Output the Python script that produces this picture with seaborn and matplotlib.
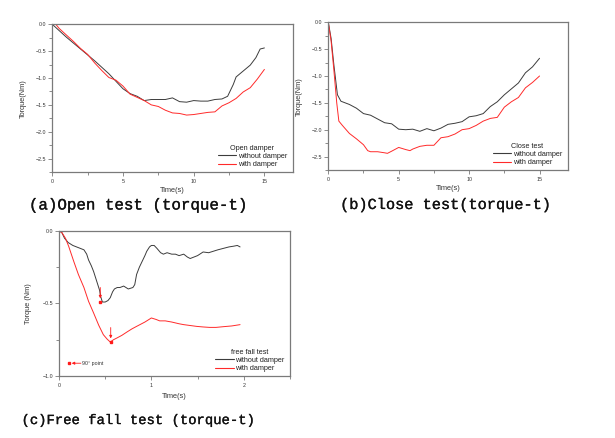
import numpy as np
import pandas as pd
import matplotlib
matplotlib.use("Agg")
import matplotlib.pyplot as plt
import matplotlib.patheffects as pe
from matplotlib.lines import Line2D
import seaborn as sns
from matplotlib.ticker import MultipleLocator

# ---------------- data ----------------
# (a) Open test
open_wo_t = [0, 0.5, 1, 1.5, 2, 2.5, 3, 3.5, 4, 4.5, 5, 5.5, 6, 6.5, 7, 7.5, 8, 8.5,
             9, 9.5, 10, 10.5, 11, 11.5, 12, 12.4, 12.8, 13.0, 13.5, 14, 14.4, 14.7, 15]
open_wo_v = [0, -0.12, -0.24, -0.35, -0.46, -0.57, -0.68, -0.80, -0.92, -1.06, -1.20, -1.29,
             -1.34, -1.42, -1.40, -1.40, -1.40, -1.37, -1.44, -1.45, -1.42, -1.43, -1.43,
             -1.40, -1.39, -1.34, -1.12, -0.98, -0.87, -0.76, -0.62, -0.46, -0.44]
open_w_t = [0.25, 0.5, 1, 1.5, 2, 2.5, 3, 3.5, 4, 4.5, 5, 5.5, 6, 6.5, 7, 7.5, 8, 8.5,
            9, 9.5, 10, 10.5, 11, 11.5, 12, 12.5, 13, 13.5, 14, 14.5, 15]
open_w_v = [0, -0.08, -0.20, -0.32, -0.45, -0.56, -0.72, -0.86, -0.99, -1.04, -1.15, -1.30,
            -1.36, -1.42, -1.50, -1.53, -1.60, -1.65, -1.66, -1.69, -1.68, -1.66, -1.64,
            -1.63, -1.52, -1.46, -1.38, -1.26, -1.18, -1.02, -0.84]

# (b) Close test
close_wo_t = [0, 0.2, 0.4, 0.65, 0.9, 1.5, 2, 2.5, 3, 3.5, 4, 4.5, 5, 5.5, 6, 6.5, 7, 7.5,
              8, 8.5, 9, 9.5, 10, 10.5, 11, 11.5, 12, 12.5, 13, 13.5, 14, 14.5, 15]
close_wo_v = [0, -0.30, -0.80, -1.35, -1.47, -1.53, -1.60, -1.70, -1.73, -1.80, -1.87, -1.89,
              -1.99, -2.00, -1.99, -2.03, -1.98, -2.02, -1.97, -1.90, -1.88, -1.85, -1.76,
              -1.74, -1.70, -1.57, -1.48, -1.35, -1.24, -1.13, -0.94, -0.83, -0.67]
close_w_t = [0, 0.2, 0.4, 0.6, 0.75, 1, 1.5, 2, 2.5, 2.8, 3, 3.5, 4, 4.2, 4.5, 5, 5.5, 5.8,
             6, 6.5, 7, 7.5, 8, 8.5, 9, 9.5, 10, 10.5, 11, 11.5, 12, 12.5, 13, 13.5, 14,
             14.5, 15]
close_w_v = [0, -0.35, -0.90, -1.50, -1.84, -1.92, -2.07, -2.17, -2.28, -2.39, -2.41, -2.41,
             -2.43, -2.44, -2.40, -2.33, -2.37, -2.39, -2.36, -2.31, -2.29, -2.29, -2.15,
             -2.13, -2.08, -2.00, -1.98, -1.92, -1.84, -1.79, -1.77, -1.58, -1.48, -1.40,
             -1.22, -1.12, -1.00]

# (c) Free fall test
fall_wo_t = [0, 0.03, 0.06, 0.1, 0.15, 0.19, 0.23, 0.27, 0.3, 0.32, 0.35, 0.375, 0.4, 0.42,
             0.44, 0.45, 0.47, 0.5, 0.53, 0.555, 0.58, 0.6, 0.63, 0.66, 0.7, 0.75, 0.8, 0.82,
             0.84, 0.87, 0.9, 0.93, 0.95, 0.98, 1.0, 1.03, 1.06, 1.1, 1.13, 1.17, 1.22, 1.26,
             1.3, 1.35, 1.39, 1.42, 1.46, 1.5, 1.56, 1.62, 1.67, 1.72, 1.78, 1.84, 1.89,
             1.93, 1.96]
fall_wo_v = [0, -0.01, -0.05, -0.08, -0.10, -0.11, -0.12, -0.13, -0.16, -0.20, -0.24, -0.28,
             -0.33, -0.37, -0.41, -0.45, -0.49, -0.49, -0.48, -0.46, -0.42, -0.40, -0.39,
             -0.39, -0.38, -0.40, -0.39, -0.37, -0.30, -0.25, -0.21, -0.17, -0.14, -0.11,
             -0.10, -0.10, -0.12, -0.15, -0.16, -0.15, -0.16, -0.16, -0.17, -0.16, -0.18,
             -0.19, -0.18, -0.17, -0.145, -0.15, -0.14, -0.13, -0.12, -0.11, -0.105, -0.10,
             -0.11]
fall_w_t = [0, 0.03, 0.07, 0.105, 0.16, 0.21, 0.27, 0.32, 0.375, 0.43, 0.48, 0.52, 0.555,
            0.59, 0.627, 0.68, 0.735, 0.79, 0.84, 0.93, 1.0, 1.05, 1.09, 1.15, 1.22, 1.3,
            1.35, 1.42, 1.49, 1.56, 1.63, 1.7, 1.78, 1.87, 1.96]
fall_w_v = [0, -0.01, -0.05, -0.106, -0.21, -0.30, -0.39, -0.485, -0.566, -0.65, -0.715,
            -0.745, -0.766, -0.75, -0.738, -0.72, -0.697, -0.675, -0.658, -0.628, -0.60,
            -0.61, -0.62, -0.62, -0.628, -0.64, -0.646, -0.652, -0.658, -0.662, -0.665,
            -0.665, -0.66, -0.655, -0.646]

# 90 degree points (free fall test)
point90_t = [0.447, 0.56]
point90_v = [-0.49, -0.766]

series_names = ["without damper", "with damper"]
legend_titles = ["Open damper", "Close test", "free fall test"]
captions = ["(a)Open test (torque-t)", "(b)Close test(torque-t)", "(c)Free fall test (torque-t)"]
ab_xticks = [0, 5, 10, 15]
ab_xticklabels = ["0", "5", "10", "15"]
ab_yticks = [0, -0.5, -1.0, -1.5, -2.0, -2.5]
ab_yticklabels = ["0.0", "\u22120.5", "\u22121.0", "\u22121.5", "\u22122.0", "\u22122.5"]
c_xticks = [0, 1, 2]
c_xticklabels = ["0", "1", "2"]
c_yticks = [0, -0.5, -1.0]
c_yticklabels = ["0.0", "\u22120.5", "\u22121.0"]

# ---------------- style ----------------
sns.set_style("ticks")
plt.rcParams['font.family'] = ['Liberation Sans', 'DejaVu Sans']

palette = {"without damper": "#3c3c3c", "with damper": "#ff2a2a"}
spine_col = "#7a7a7a"
text_col = "#333333"


def make_df(t1, v1, t2, v2):
    a = pd.DataFrame({"Time": t1, "Torque": v1, "series": series_names[0]})
    b = pd.DataFrame({"Time": t2, "Torque": v2, "series": series_names[1]})
    return pd.concat([a, b], ignore_index=True)


fig = plt.figure(figsize=(6.15, 4.38), dpi=100)
axA = fig.add_axes([0.0850, 0.6073, 0.3909, 0.3372])
axB = fig.add_axes([0.5338, 0.6119, 0.3893, 0.3372])
axC = fig.add_axes([0.0959, 0.1416, 0.3756, 0.3311])

dfs = [make_df(open_wo_t, open_wo_v, open_w_t, open_w_v),
       make_df(close_wo_t, close_wo_v, close_w_t, close_w_v),
       make_df(fall_wo_t, fall_wo_v, fall_w_t, fall_w_v)]
axes = [axA, axB, axC]
leg_y = [0.012, 0.012, 0.012]

for i, (ax, df) in enumerate(zip(axes, dfs)):
    sns.lineplot(data=df, x="Time", y="Torque", hue="series", hue_order=series_names,
                 palette=palette, estimator=None, sort=False, linewidth=0.7, ax=ax,
                 legend=False)
    for s in ax.spines.values():
        s.set_color(spine_col)
        s.set_linewidth(0.9)
    ax.tick_params(which="both", direction="out", colors=spine_col, labelcolor=text_col,
                   labelsize=3.8, width=0.6)
    ax.tick_params(which="major", length=3, pad=1.2)
    ax.tick_params(which="minor", length=2)
    ax.tick_params(axis="x", pad=2.0)
    handles = [Line2D([0], [0], color=palette[n], lw=0.8) for n in series_names]
    leg = ax.legend(handles, series_names, title=legend_titles[i], loc="lower right",
                    frameon=False, fontsize=5.2, title_fontsize=5.2, handlelength=2.5,
                    handletextpad=0.2, labelspacing=0.15, borderaxespad=0,
                    borderpad=0.3, bbox_to_anchor=(0.985, leg_y[i]))
    for t in leg.get_texts():
        t.set_color("#222222")
    leg.get_title().set_color("#222222")

# panel (a), (b)
for ax in (axA, axB):
    ax.set_xlim(0, 17)
    ax.set_ylim(-2.75, 0)
    ax.xaxis.set_minor_locator(MultipleLocator(2.5))
    ax.yaxis.set_minor_locator(MultipleLocator(0.25))
    ax.set_xticks(ab_xticks)
    ax.set_xticklabels(ab_xticklabels)
    ax.set_yticks(ab_yticks)
    ax.set_yticklabels(ab_yticklabels)
    ax.set_xlabel("Time(s)", fontsize=5.3, color=text_col)
    ax.set_ylabel("Torque(Nm)", fontsize=5.3, color=text_col)
    ax.yaxis.set_label_coords(-0.105, 0.5)
    ax.xaxis.set_label_coords(0.5, -0.10)

# panel (c)
axC.set_xlim(0, 2.5)
axC.set_ylim(-1.0, 0)
axC.xaxis.set_minor_locator(MultipleLocator(0.5))
axC.yaxis.set_minor_locator(MultipleLocator(0.25))
axC.set_xticks(c_xticks)
axC.set_xticklabels(c_xticklabels)
axC.set_yticks(c_yticks)
axC.set_yticklabels(c_yticklabels)
axC.set_xlabel("Time(s)", fontsize=5.3, color=text_col)
axC.set_ylabel("Torque (Nm)", fontsize=5.3, color=text_col)
axC.yaxis.set_label_coords(-0.118, 0.5)
axC.xaxis.set_label_coords(0.5, -0.115)

# 90 degree points with arrows
axC.plot(point90_t, point90_v, linestyle="none", marker="s", ms=1.6, color="#ff1a1a")
for t, v in zip(point90_t, point90_v):
    axC.annotate("", xy=(t, v + 0.025), xytext=(t, v + 0.1),
                 arrowprops=dict(arrowstyle="-|>", color="#ff1a1a", lw=0.6,
                                 mutation_scale=4, shrinkA=0, shrinkB=0))
# key for the 90 degree point
axC.plot([0.045], [0.088], transform=axC.transAxes, marker="s", ms=1.6,
         color="#ff1a1a", linestyle="none")
axC.annotate("", xy=(0.055, 0.088), xytext=(0.095, 0.088), xycoords="axes fraction",
             textcoords="axes fraction",
             arrowprops=dict(arrowstyle="-|>", color="#ff1a1a", lw=0.6,
                             mutation_scale=4, shrinkA=0, shrinkB=0))
axC.text(0.1, 0.088, "90° point", transform=axC.transAxes, fontsize=3.8,
         color=text_col, va="center", ha="left")

# captions
cap_font = ["Liberation Mono", "DejaVu Serif"]
cap_fx = [pe.withStroke(linewidth=0.2, foreground="#111111")]
fig.text(0.047, 0.532, captions[0], family=cap_font, fontsize=11.4, va="center",
         ha="left", color="#111111", path_effects=cap_fx)
fig.text(0.553, 0.532, captions[1], family=cap_font, fontsize=11.0, va="center",
         ha="left", color="#111111", path_effects=cap_fx)
fig.text(0.035, 0.041, captions[2], family=cap_font, fontsize=10.0, va="center",
         ha="left", color="#111111", path_effects=cap_fx)

fig.savefig("out.png", dpi=100)
